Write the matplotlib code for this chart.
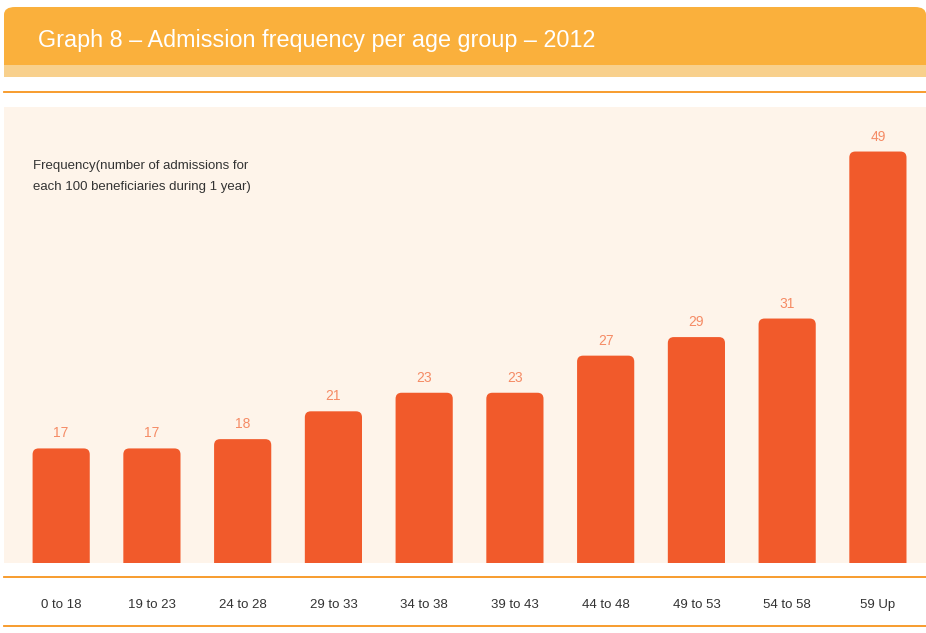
import numpy as np
import matplotlib
matplotlib.use("Agg")
import matplotlib.pyplot as plt
from matplotlib.patches import FancyBboxPatch, Rectangle
from matplotlib.lines import Line2D

age_groups = ["0 to 18", "19 to 23", "24 to 28", "29 to 33", "34 to 38",
              "39 to 43", "44 to 48", "49 to 53", "54 to 58", "59 Up"]
frequency = [17, 17, 18, 21, 23, 23, 27, 29, 31, 49]

TITLE = "Graph 8 \u2013 Admission frequency per age group \u2013 2012"
YLABEL = "Frequency(number of admissions for\neach 100 beneficiaries during 1 year)"

HEADER = "#FAB03C"
STRIP = "#F8D08C"
RULE = "#F7941E"
CREAM = "#FEF4EA"
BAR = "#F15A2B"
VALUE = "#F58B65"
TEXT = "#333333"
plt.rcParams["font.family"] = ["Liberation Sans", "DejaVu Sans"]

W, H = 926, 633
fig = plt.figure(figsize=(W / 100, H / 100), dpi=100)


def fx(px):
    return px / W


def fy(py):
    return 1 - py / H


# header band with rounded top corners
fig.patches.append(FancyBboxPatch((fx(4), fy(65)), fx(922), fy(7) - fy(65),
                                  boxstyle="round,pad=0,rounding_size=0.012",
                                  transform=fig.transFigure, fc=HEADER, ec="none"))
fig.patches.append(Rectangle((fx(4), fy(65)), fx(922), 0.02,
                             transform=fig.transFigure, fc=HEADER, ec="none"))
fig.patches.append(Rectangle((fx(4), fy(77)), fx(922), fy(65) - fy(77),
                             transform=fig.transFigure, fc=STRIP, ec="none"))
fig.text(fx(38), fy(40), TITLE, color="white", fontsize=16.8, va="center")

for py in (92, 577, 626):
    fig.lines.append(Line2D([fx(4), 1], [fy(py), fy(py)], transform=fig.transFigure,
                            color=RULE, lw=1.3))

ax = fig.add_axes([fx(4), fy(563), fx(922), fy(107) - fy(563)])
ax.set_facecolor(CREAM)
for s in ax.spines.values():
    s.set_visible(False)

x = np.arange(len(frequency))
ax.set_xlim(-0.63, len(frequency) - 0.47)
ax.set_ylim(4.65, 53.8)

bars = ax.bar(x, frequency, width=0.63, color=BAR)
# swap the plain rectangles for ones with rounded corners
px_x = fx(922) * W / (ax.get_xlim()[1] - ax.get_xlim()[0])
px_y = (563 - 107) / (ax.get_ylim()[1] - ax.get_ylim()[0])
for b in bars:
    bx, bw, bh = b.get_x(), b.get_width(), b.get_height()
    b.remove()
    ax.add_patch(FancyBboxPatch((bx, 0), bw, bh,
                                boxstyle="round,pad=0,rounding_size=%f" % (6 / px_x),
                                mutation_aspect=px_x / px_y, fc=BAR, ec="none"))

for xi, v in zip(x, frequency):
    ax.annotate(str(v), (xi, v), xytext=(0, 15), textcoords="offset pixels",
                ha="center", va="center", color=VALUE, fontsize=10)

ax.set_yticks([])
ax.set_xticks(x, age_groups)
ax.tick_params(axis="x", length=0, pad=26, labelsize=9.5, labelcolor=TEXT)

fig.text(fx(33), fy(160), YLABEL, color=TEXT, fontsize=9.5, va="top",
         linespacing=1.95)

fig.savefig("out.png", dpi=100, facecolor="white")
